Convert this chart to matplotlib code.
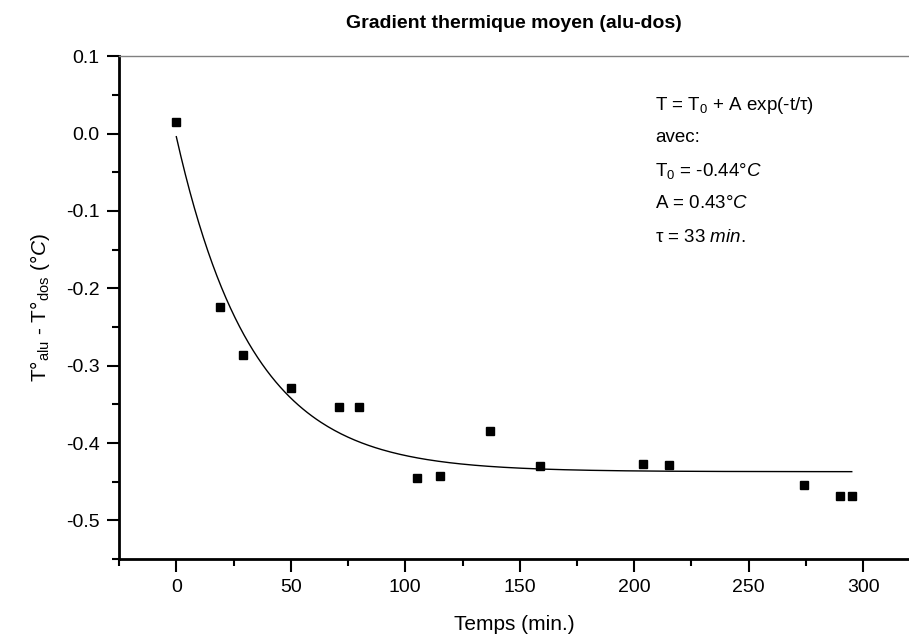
import numpy as np
import matplotlib
matplotlib.use('Agg')
from matplotlib import pyplot as plt
from matplotlib.ticker import MultipleLocator

plt.rcParams['font.family'] = ['Liberation Sans', 'DejaVu Sans']
plt.rcParams['mathtext.fontset'] = 'custom'
plt.rcParams['mathtext.rm'] = 'Liberation Sans'
plt.rcParams['mathtext.it'] = 'Liberation Sans:italic'

# mesures (temps en min, ecart de temperature en degC)
temps = [0, 19, 29, 50, 71, 80, 105, 115, 137, 159, 204, 215, 274, 290, 295]
gradient = [0.015, -0.224, -0.286, -0.329, -0.354, -0.354, -0.445, -0.442,
            -0.385, -0.429, -0.427, -0.428, -0.454, -0.468, -0.468]

# parametres de l'ajustement T = T0 + A exp(-t/tau)
T0 = -0.437
A = 0.433
tau = 33.0

t_fit = np.linspace(0, 295, 300)
y_fit = T0 + A * np.exp(-t_fit / tau)

fig = plt.figure(figsize=(9.09, 6.39), dpi=100)
ax = fig.add_axes([0.131, 0.125, 0.869, 0.787])

ax.plot(t_fit, y_fit, color='black', lw=1.0)
ax.plot(temps, gradient, 's', color='black', markersize=5.5, clip_on=False)

ax.set_xlim(-25, 320)
ax.set_ylim(-0.55, 0.1)
ax.xaxis.set_major_locator(MultipleLocator(50))
ax.xaxis.set_minor_locator(MultipleLocator(25))
ax.yaxis.set_major_locator(MultipleLocator(0.1))
ax.yaxis.set_minor_locator(MultipleLocator(0.05))
ax.yaxis.set_major_formatter(plt.FuncFormatter(lambda v, p: '%.1f' % v))

ax.spines['right'].set_visible(False)
ax.spines['top'].set_color('#808080')
ax.spines['top'].set_linewidth(1.0)
ax.spines['left'].set_linewidth(2.0)
ax.spines['bottom'].set_linewidth(2.0)
ax.tick_params(which='major', length=9, width=1.5, labelsize=14, pad=5)
ax.tick_params(which='minor', length=5, width=1.5)

ax.set_xlabel('Temps (min.)', fontsize=15, labelpad=14)
ax.set_ylabel(r'T°$_{\rm alu}$ - T°$_{\rm dos}$ (°$\mathit{C}$)', fontsize=15, labelpad=10)
ax.set_title('Gradient thermique moyen (alu-dos)', fontsize=14,
             fontweight='bold', pad=20)

# texte de l'ajustement
lignes = [r'T = T$_0$ + A exp(-t/τ)',
          'avec:',
          r'T$_0$ = -0.44°$\mathit{C}$',
          r'A = 0.43°$\mathit{C}$',
          r'τ = 33 $\mathit{min.}$']
for i, txt in enumerate(lignes):
    fig.text(655 / 909, 1 - (105 + i * 33) / 639, txt, fontsize=13.5,
             va='center', ha='left')

fig.savefig('out.png', dpi=100)
